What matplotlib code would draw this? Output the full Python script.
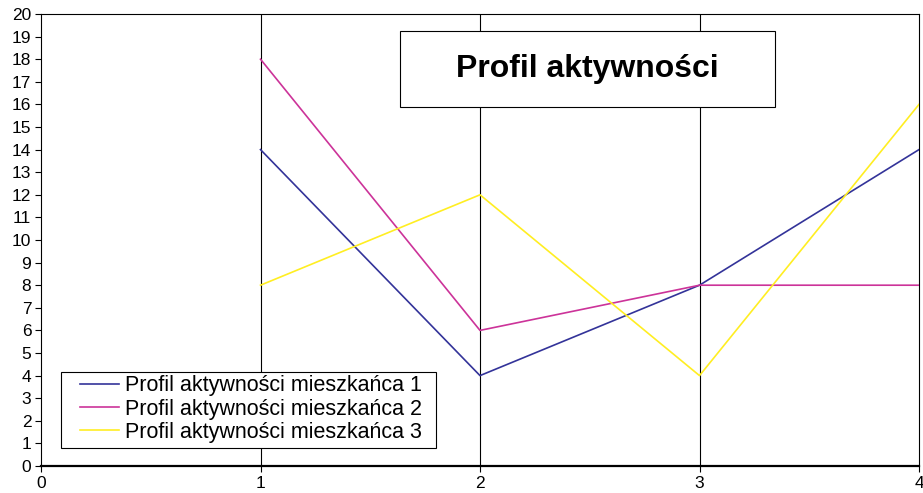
import matplotlib
matplotlib.use("Agg")
import matplotlib.pyplot as plt
from matplotlib.patches import Rectangle

x = [1, 2, 3, 4]
s1 = [14, 4, 8, 14]
s2 = [18, 6, 8, 8]
s3 = [8, 12, 4, 16]
labels = ["Profil aktywności mieszkańca 1", "Profil aktywności mieszkańca 2", "Profil aktywności mieszkańca 3"]
colors = ["#333399", "#CC3399", "#FFEE22"]
title = "Profil aktywności"

plt.rcParams['font.family'] = ['Liberation Sans', 'DejaVu Sans']
fig = plt.figure(figsize=(9.23, 4.93), dpi=100)
W, H = 923, 493
ax = fig.add_axes([41/W, 1-466/H, (919-41)/W, (466-14)/H])
for xv in [1, 2, 3]:
    ax.axvline(xv, color='black', lw=0.8, zorder=1)
for s, c, l in zip([s1, s2, s3], colors, labels):
    ax.plot(x, s, color=c, lw=1.2, label=l, zorder=3)
ax.set_xlim(0, 4)
ax.set_ylim(0, 20)
ax.set_xticks(range(0, 5))
ax.set_yticks(range(0, 21))
ax.tick_params(labelsize=12.5, length=4, width=0.8, direction='out', pad=3)
for sp in ax.spines.values():
    sp.set_linewidth(0.8)
ax.spines['bottom'].set_linewidth(1.6)

# legend frame
fig.patches.append(Rectangle((61/W, 1-448/H), (436-61)/W, (448-372)/H, transform=fig.transFigure,
                             fc='white', ec='black', lw=0.8, zorder=5))
leg = fig.legend(loc='center left', bbox_to_anchor=(80/W, 1-409/H), fontsize=15.5,
                 frameon=False, handlelength=1.8, borderpad=0, labelspacing=0.1,
                 handletextpad=0.3, borderaxespad=0)
leg.set_zorder(6)

# title box
fig.patches.append(Rectangle((400/W, 1-107/H), (775-400)/W, (107-31)/H, transform=fig.transFigure,
                             fc='white', ec='black', lw=0.8, zorder=5))
fig.text((400+775)/2/W, 1-69/H, title, ha='center', va='center',
         fontsize=23, fontweight='bold', zorder=6)
fig.savefig("out.png", dpi=100)
